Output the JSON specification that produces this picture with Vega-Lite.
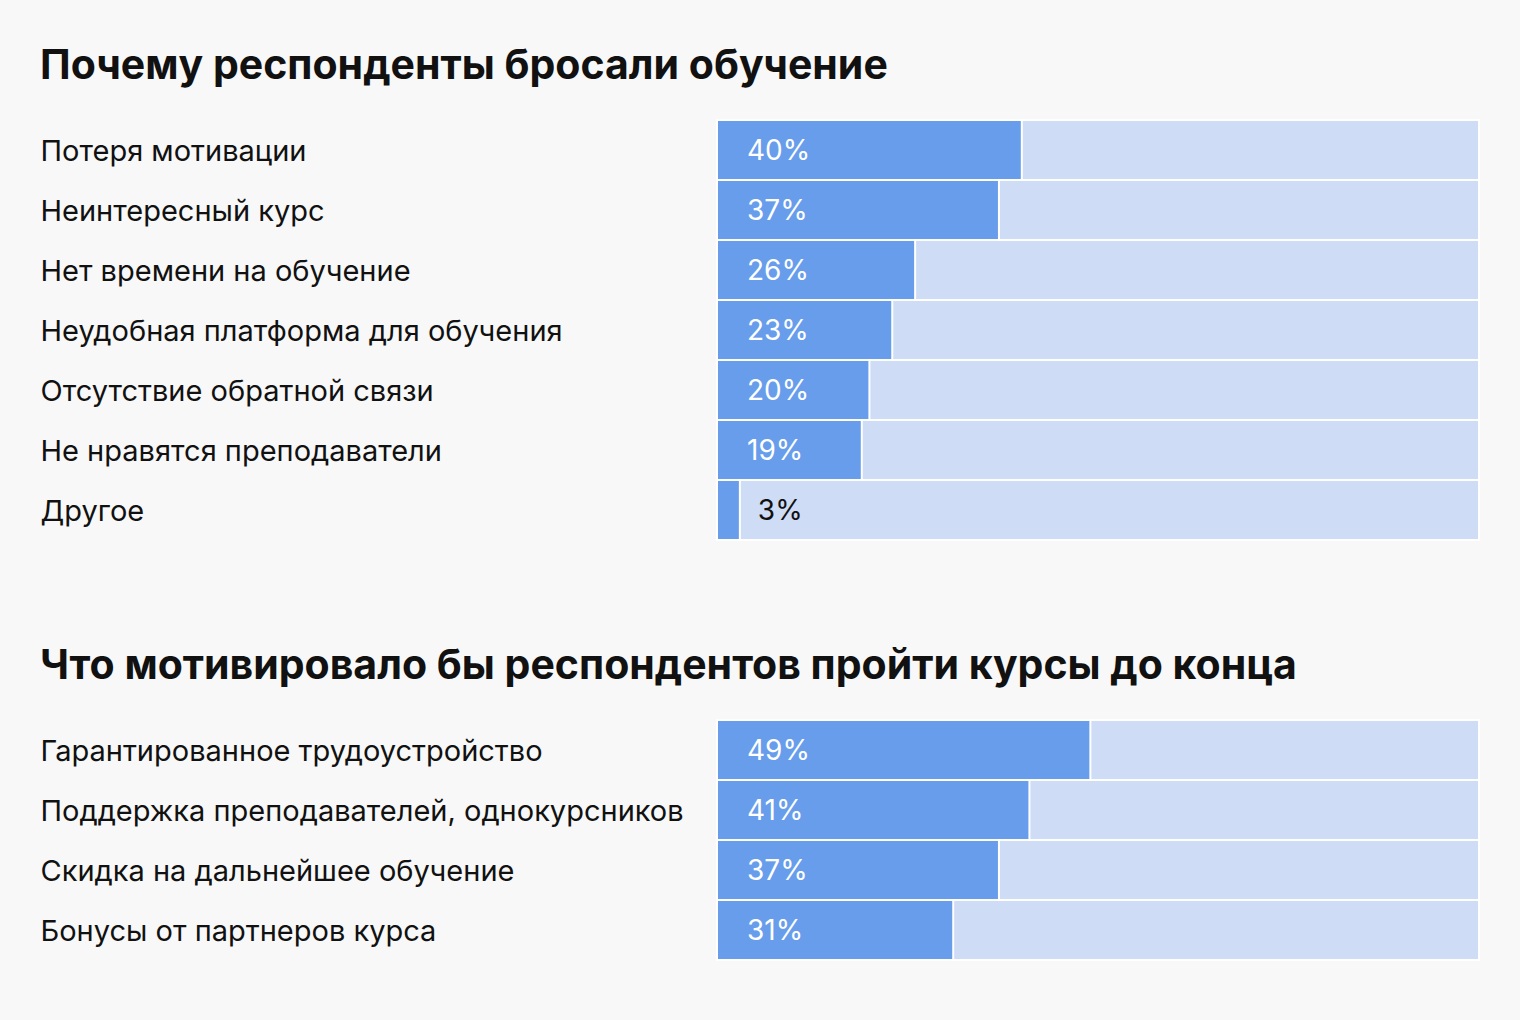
{
  "$schema": "https://vega.github.io/schema/vega-lite/v6.json",
  "background": "#f8f8f8",
  "padding": {"left": 40, "top": 46, "right": 41, "bottom": 60},
  "spacing": 105,
  "config": {
    "font": "Inter",
    "view": {"stroke": null},
    "title": {"anchor": "start", "frame": "bounds", "fontSize": 41, "fontWeight": "bold", "color": "#111111", "offset": 31, "font": "Inter"},
    "axis": {"labelFont": "Inter"}
  },
  "datasets": {
    "reasons": [
      {"label": "Потеря мотивации", "value": 40},
      {"label": "Неинтересный курс", "value": 37},
      {"label": "Нет времени на обучение", "value": 26},
      {"label": "Неудобная платформа для обучения", "value": 23},
      {"label": "Отсутствие обратной связи", "value": 20},
      {"label": "Не нравятся преподаватели", "value": 19},
      {"label": "Другое", "value": 3}
    ],
    "motives": [
      {"label": "Гарантированное трудоустройство", "value": 49},
      {"label": "Поддержка преподавателей, однокурсников", "value": 41},
      {"label": "Скидка на дальнейшее обучение", "value": 37},
      {"label": "Бонусы от партнеров курса", "value": 31}
    ]
  },
  "vconcat": [
    {
      "title": "Почему респонденты бросали обучение",
      "data": {"name": "reasons"},
      "transform": [{"calculate": "datum.value + '%'", "as": "txt"}],
      "width": 762,
      "height": {"step": 60},
      "encoding": {
        "y": {"field": "label", "type": "nominal", "sort": null,
          "scale": {"paddingInner": 0, "paddingOuter": 0},
          "axis": {"title": null, "domain": false, "ticks": false, "labelAlign": "left", "labelBaseline": "middle", "labelOffset": 2, "labelPadding": 677, "labelFontSize": 29, "labelColor": "#111111", "labelLimit": 700}}
      },
      "layer": [
        {"mark": {"type": "bar", "color": "#cedcf5", "stroke": "#ffffff", "strokeWidth": 2}, "encoding": {"x": {"datum": 100, "type": "quantitative", "scale": {"domain": [0, 100]}, "axis": null}}},
        {"mark": {"type": "bar", "color": "#679deb", "stroke": "#ffffff", "strokeWidth": 2}, "encoding": {"x": {"field": "value", "type": "quantitative", "scale": {"domain": [0, 100]}, "axis": null}}},
        {"transform": [{"filter": "datum.value >= 5"}], "mark": {"type": "text", "align": "left", "baseline": "middle", "dx": 30, "dy": 2, "fontSize": 28, "color": "#ffffff"}, "encoding": {"x": {"datum": 0, "type": "quantitative"}, "text": {"field": "txt", "type": "nominal"}}},
        {"transform": [{"filter": "datum.value < 5"}], "mark": {"type": "text", "align": "left", "baseline": "middle", "dx": 18, "dy": 2, "fontSize": 28, "color": "#111111"}, "encoding": {"x": {"field": "value", "type": "quantitative"}, "text": {"field": "txt", "type": "nominal"}}}
      ]
    },
    {
      "title": "Что мотивировало бы респондентов пройти курсы до конца",
      "data": {"name": "motives"},
      "transform": [{"calculate": "datum.value + '%'", "as": "txt"}],
      "width": 762,
      "height": {"step": 60},
      "encoding": {
        "y": {"field": "label", "type": "nominal", "sort": null,
          "scale": {"paddingInner": 0, "paddingOuter": 0},
          "axis": {"title": null, "domain": false, "ticks": false, "labelAlign": "left", "labelBaseline": "middle", "labelOffset": 2, "labelPadding": 677, "labelFontSize": 29, "labelColor": "#111111", "labelLimit": 700}}
      },
      "layer": [
        {"mark": {"type": "bar", "color": "#cedcf5", "stroke": "#ffffff", "strokeWidth": 2}, "encoding": {"x": {"datum": 100, "type": "quantitative", "scale": {"domain": [0, 100]}, "axis": null}}},
        {"mark": {"type": "bar", "color": "#679deb", "stroke": "#ffffff", "strokeWidth": 2}, "encoding": {"x": {"field": "value", "type": "quantitative", "scale": {"domain": [0, 100]}, "axis": null}}},
        {"mark": {"type": "text", "align": "left", "baseline": "middle", "dx": 30, "dy": 2, "fontSize": 28, "color": "#ffffff"}, "encoding": {"x": {"datum": 0, "type": "quantitative"}, "text": {"field": "txt", "type": "nominal"}}}
      ]
    }
  ]
}
